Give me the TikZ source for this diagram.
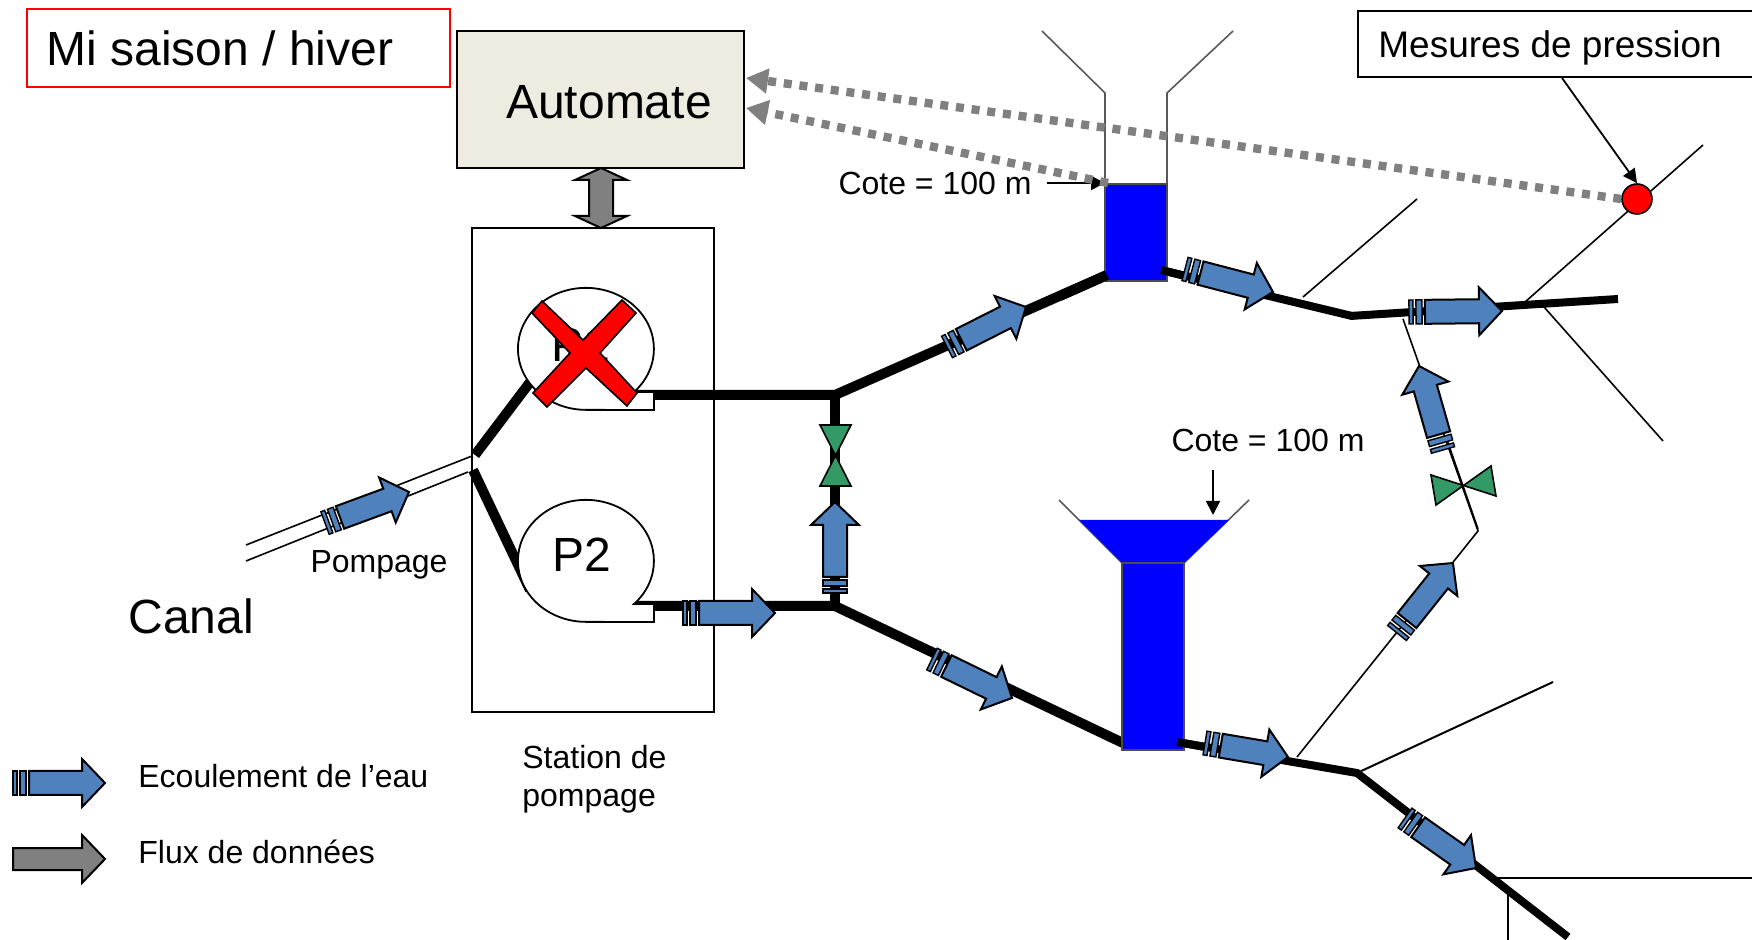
\documentclass[tikz,border=0pt]{standalone}
\usepackage{fontspec}
\setmainfont{Liberation Sans}
\usetikzlibrary{calc, positioning, arrows.meta}
\definecolor{flowblue}{HTML}{4F81BD}
\definecolor{valvegreen}{HTML}{339966}
\definecolor{automatebg}{HTML}{EEECE1}
\def\bigtext{\fontsize{24}{28}\selectfont}
\def\midtext{\fontsize{18.5}{22}\selectfont}
\def\smalltext{\fontsize{16}{19}\selectfont}
\tikzstyle{thin line}=[line width=0.8pt]
\tikzstyle{funnel line}=[line width=0.8pt, black!65]
\tikzstyle{pipe}=[line width=5pt]
\tikzstyle{branch pipe}=[line width=4pt]
\tikzstyle{sensor link}=[line width=4.2pt, gray, dash pattern=on 4pt off 3.9pt, -{Triangle[length=11pt,width=12pt]}]
\tikzstyle{mark arrow}=[line width=0.9pt, -{Triangle[length=7pt,width=7pt]}]
\tikzstyle{valve}=[draw, line width=0.8pt, fill=valvegreen]
\tikzstyle{water}=[draw=black!70, line width=0.8pt, fill=blue]
\tikzset{
  pics/flowarrow/.style={code={
    \draw[line width=1pt, fill=flowblue] (16,-12) -- ({#1-23},-12) -- ({#1-23},-24) -- (#1,0)
      -- ({#1-23},24) -- ({#1-23},12) -- (16,12) -- cycle;
    \draw[line width=0.7pt, fill=flowblue] (7,-12) rectangle (13,12);
    \draw[line width=0.7pt, fill=flowblue] (0,-12) rectangle (4,12);
  }},
  pics/pump/.style={code={
    \draw[line width=0.9pt, fill=white] (68,43) -- (48,43) arc[start angle=45, end angle=-270, x radius=68, y radius=61]
      -- (68,61) -- cycle;
  }}
}
\begin{document}
\begin{tikzpicture}[x=0.5pt, y=-0.5pt]
	\useasboundingbox (0,0) rectangle (1752,940);
	% Title and control box
	\node[draw=red, line width=0.8pt, minimum width=211.5pt, minimum height=39pt] (season box) at (238.5,48) {};
	\node[anchor=west, inner sep=0pt] (season) at (46,48) {\bigtext Mi saison / hiver};
	\node[draw, fill=automatebg, line width=0.9pt, minimum width=143.5pt, minimum height=68.5pt] (automate box) at (600.5,99.5) {};
	\node[inner sep=0pt] (automate) at (609,102) {\bigtext Automate};
	\node[draw, line width=0.8pt, minimum width=121pt, minimum height=242pt] (station) at (593,470) {};
	% Pipes of the left part
	\coordinate (inlet up) at (246,545);
	\coordinate (inlet down) at (246,561);
	\coordinate (split up) at (472,456);
	\coordinate (split down) at (468,472);
	\coordinate (J-top) at (835,395);
	\coordinate (J-bottom) at (835,606);
	\draw[thin line] (inlet up) -- (split up);
	\draw[thin line] (inlet down) -- (split down);
	\draw[pipe] (475,455) -- (540,369);
	\draw[pipe] (473,470) -- (530,590);
	\draw[pipe] (620,395) -- (J-top) -- (1107,275);
	\draw[pipe] (620,606) -- (J-bottom) -- (1123,743);
	\draw[pipe] (J-top) -- (J-bottom);
	% Thin branches
	\draw[thin line] (1303,297) -- (1417,199);
	\draw[thin line] (1525,302) -- (1703,145);
	\draw[thin line] (1544,307) -- (1663,441);
	\draw[thin line] (1297,757) -- (1478,531) -- (1403,319);
	\draw[line width=1pt] (1357,773) -- (1553,682);
	\draw[line width=1pt] (1497,878) -- (1752,878);
	\draw[line width=1pt] (1508,895) -- (1508,940);
	% Pipes of the right part
	\draw[branch pipe] (1161,270) -- (1352,316);
	\draw[branch pipe] (1350,316) -- (1618,299);
	\draw[branch pipe] (1177,742) -- (1357,773) -- (1568,937);
	% Upper tank
	\draw[funnel line] (1042,31) -- (1105,93) -- (1105,184);
	\draw[funnel line] (1233,31) -- (1167,93) -- (1167,184);
	\node[water, minimum width=31pt, minimum height=48.5pt] (tank up) at (1136,232.5) {};
	\draw[branch pipe] (1161,270) -- (1185,276);
	\draw[pipe] (1060,296) -- (1107,275);
	% Lower tank
	\draw[funnel line] (1059,500) -- (1122,563);
	\draw[funnel line] (1249,500) -- (1184,563);
	\fill[blue] (1079,520) -- (1229,520) -- (1184,563) -- (1122,563) -- cycle;
	\node[water, minimum width=31pt, minimum height=93.5pt] (tank down) at (1153,656.5) {};
	\draw[branch pipe] (1177,742) -- (1205,747);
	% Pumps
	\pic at (586,349) {pump};
	\pic at (586,561) {pump};
	\node[inner sep=0pt] (P1) at (581,345) {\bigtext P1};
	\node[inner sep=0pt] (P2) at (582,555) {\bigtext P2};
	\draw[line width=0.8pt, fill=red] (542,301) -- (583,340) -- (622,300) -- (636,313) -- (600,353) -- (637,393)
		-- (627,406) -- (586,368) -- (547,407) -- (533,393) -- (570,353) -- (532,313) -- cycle;
	% Valves
	\draw[valve] (820,425) -- (851,425) -- (820,486) -- (851,486) -- cycle;
	\draw[valve] (1431,475) -- (1496,496) -- (1491,466) -- (1436,505) -- cycle;
	\draw[thin line] (1447,440) -- (1478,529);
	% Water flow arrows
	\foreach \tx/\ty/\hx/\hy in {325/523/409/492, 947/347/1026/307, 835/593/835/502, 683/613/775/613,
		932/659/1012/698, 1185/269/1273/292, 1409/312/1502/311, 1443/450/1419/366,
		1397/633/1453/563, 1205/743/1288/757, 1405/818/1476/868, 13/783/105/783}
	{
		\pgfmathsetmacro\ang{atan2(\ty-\hy,\hx-\tx)}
		\pgfmathsetmacro\len{veclen(\hx-\tx,\hy-\ty)}
		\pic[rotate=\ang] at (\tx,\ty) {flowarrow=\len};
	}
	% Data arrows
	\draw[line width=1pt, fill=gray] (601,168) -- (627,180) -- (613,180) -- (613,216) -- (627,216) -- (601,228)
		-- (575,216) -- (589,216) -- (589,180) -- (575,180) -- cycle;
	\draw[line width=1pt, fill=gray] (13,848) -- (82,848) -- (82,835) -- (105,859) -- (82,883) -- (82,870) -- (13,870) -- cycle;
	% Pressure sensor
	\node[draw, line width=0.8pt, minimum width=201pt, minimum height=33pt] (mesures box) at (1559,44) {};
	\node[anchor=west, inner sep=0pt] (mesures) at (1378,48) {\midtext Mesures de pression};
	\node[circle, draw, fill=red, line width=0.8pt, minimum size=15pt, inner sep=0pt] (sensor) at (1637,199) {};
	\draw[mark arrow] (1562,78) -- (sensor.north);
	\node[inner sep=0pt] (cote up) at (935,183) {\smalltext Cote = 100 m};
	\node[inner sep=0pt] (cote down) at (1268,440) {\smalltext Cote = 100 m};
	\coordinate (tank up corner) at (1105,183);
	\draw[mark arrow] (1047,183) -- (tank up corner);
	\draw[mark arrow] (1213,470) -- (1213,515);
	\draw[sensor link] (sensor.west) -- (746,78);
	\draw[sensor link] (1108,183) -- (746,108);
	% Labels
	\node[inner sep=0pt] (pompage) at (379,565) {\smalltext Pompage};
	\node[anchor=west, inner sep=0pt] (canal) at (128,616) {\bigtext Canal};
	\node[anchor=west, align=left, inner sep=0pt, font=\smalltext] (station label) at (522,779) {Station de\\pompage};
	\node[anchor=west, inner sep=0pt] (legend flow) at (138,776) {\smalltext Ecoulement de l’eau};
	\node[anchor=west, inner sep=0pt] (legend data) at (138,852) {\smalltext Flux de données};
\end{tikzpicture}
\end{document}
